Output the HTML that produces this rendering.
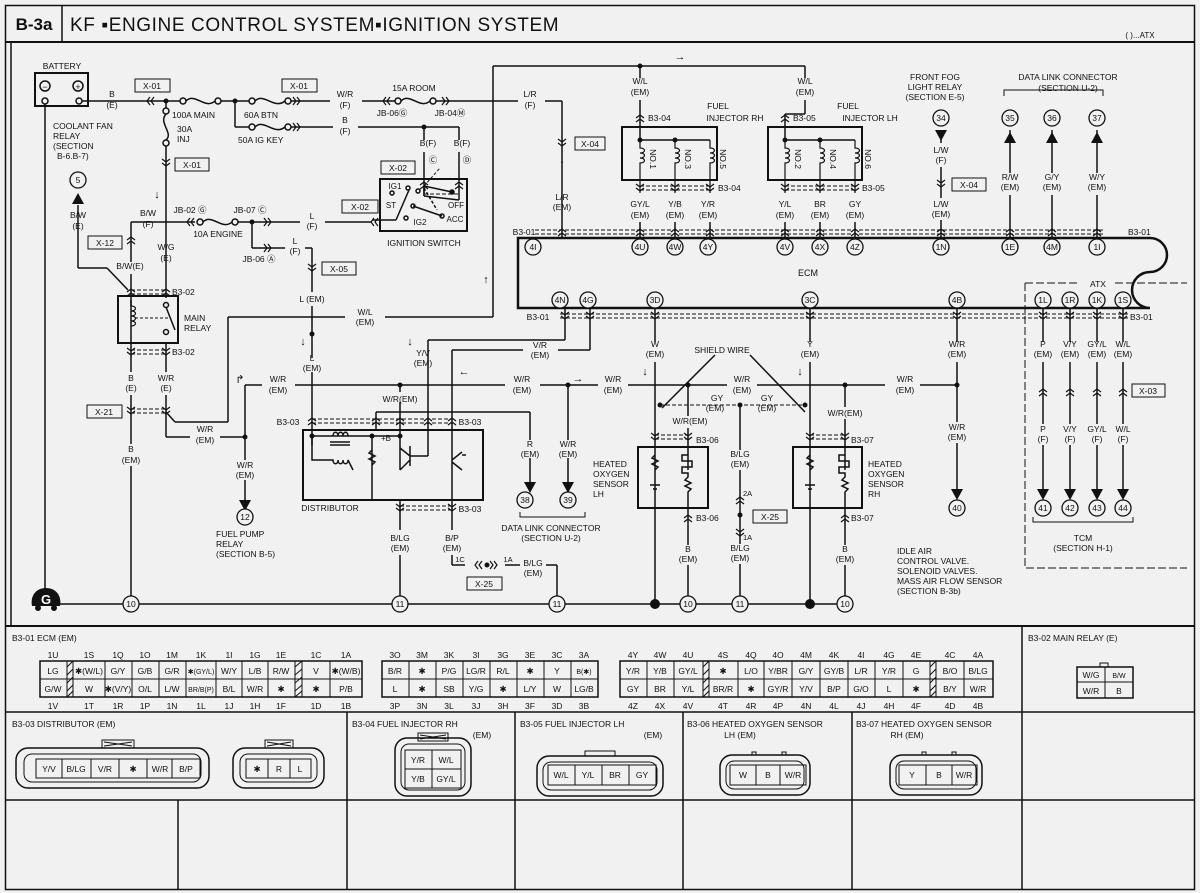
<!DOCTYPE html>
<html><head><meta charset="utf-8"><style>
html,body{margin:0;padding:0;background:#f1f1f1}
svg{display:block}
text{font-family:"Liberation Sans",sans-serif;font-size:8.5px;fill:#111;text-anchor:middle}
.l{text-anchor:start}
.t{font-size:9.5px}
</style></head><body>
<svg width="1200" height="893" viewBox="0 0 1200 893" xmlns="http://www.w3.org/2000/svg">
<defs>
<path id="vd" d="M-4,-4 L0,-1 L4,-4 M-4,0 L0,3 L4,0" fill="none" stroke="#111" stroke-width="1.2"/>
<path id="vu" d="M-4,4 L0,1 L4,4 M-4,0 L0,-3 L4,0" fill="none" stroke="#111" stroke-width="1.2"/>
<path id="hl" d="M4,-4 L1,0 L4,4 M0,-4 L-3,0 L0,4" fill="none" stroke="#111" stroke-width="1.2"/>
<path id="hr" d="M-4,-4 L-1,0 L-4,4 M0,-4 L3,0 L0,4" fill="none" stroke="#111" stroke-width="1.2"/>
<path id="ad" d="M-6,-8 L6,-8 L0,3 Z" fill="#111"/>
<path id="au" d="M-6,8 L6,8 L0,-3 Z" fill="#111"/>
</defs>
<rect x="0" y="0" width="1200" height="893" fill="#f1f1f1"/>
<rect x="5.5" y="5.5" width="1189" height="884" fill="none" stroke="#111" stroke-width="1.5"/>
<line x1="5" y1="42" x2="1195" y2="42" stroke="#111" stroke-width="2"/>
<line x1="62" y1="5" x2="62" y2="42" stroke="#111" stroke-width="1.5"/>
<text x="34" y="30" style="font-size:17px;font-weight:bold">B-3a</text>
<text x="70" y="31" class="l" style="font-size:19px;letter-spacing:0.6px">KF  ▪ENGINE CONTROL SYSTEM▪IGNITION SYSTEM</text>
<text x="1140" y="38" style="font-size:8px">(  )...ATX</text>
<line x1="11" y1="42" x2="11" y2="626" stroke="#111" stroke-width="1.5"/>

<g stroke="#111" stroke-width="1.5" fill="none">
<!-- battery -->
<rect x="35" y="73" width="53" height="33" stroke-width="2"/>
<circle cx="45" cy="86" r="5"/><circle cx="78" cy="86" r="5"/>
<circle cx="45" cy="101" r="3"/><circle cx="79" cy="101" r="3"/>
<line x1="45" y1="104" x2="45" y2="604"/>
<line x1="82" y1="101" x2="180" y2="101"/>
<!-- fuses main -->
<circle cx="183" cy="101" r="3"/><path d="M186,101 C195,92 205,110 215,101"/><circle cx="218" cy="101" r="3"/>
<line x1="221" y1="101" x2="249" y2="101"/>
<circle cx="252" cy="101" r="3"/><path d="M255,101 C264,92 274,110 285,101"/><circle cx="288" cy="101" r="3"/>
<line x1="291" y1="101" x2="330" y2="101"/><line x1="362" y1="101" x2="395" y2="101"/>
<circle cx="398" cy="101" r="3"/><path d="M401,101 C410,92 420,110 430,101"/><circle cx="433" cy="101" r="3"/>
<line x1="436" y1="101" x2="518" y2="101"/><line x1="545" y1="101" x2="562" y2="101"/>
<line x1="562" y1="101" x2="562" y2="238"/>
<!-- 50A IG KEY -->
<line x1="235" y1="101" x2="235" y2="127"/><line x1="235" y1="127" x2="249" y2="127"/>
<circle cx="252" cy="127" r="3"/><path d="M255,127 C264,118 274,136 285,127"/><circle cx="288" cy="127" r="3"/>
<line x1="291" y1="127" x2="333" y2="127"/><line x1="358" y1="127" x2="459" y2="127"/>
<line x1="459" y1="127" x2="459" y2="140"/><line x1="459" y1="152" x2="459" y2="200"/>
<line x1="424" y1="127" x2="424" y2="140"/><line x1="424" y1="152" x2="424" y2="196"/>
<line x1="424" y1="196" x2="459" y2="200"/>
<!-- ignition switch -->
<rect x="380" y="179" width="87" height="52" stroke-width="2"/>
<line x1="424" y1="186" x2="452" y2="192"/>
<circle cx="452" cy="192" r="2" fill="#111"/>
<line x1="409" y1="190" x2="396" y2="220"/><line x1="396" y1="220" x2="372" y2="220"/>
<circle cx="408" cy="188" r="2"/><circle cx="418" cy="191" r="2"/><circle cx="392" cy="193" r="2"/><circle cx="413" cy="206" r="2"/><circle cx="406" cy="218" r="2"/><circle cx="442" cy="216" r="2"/>
<line x1="413" y1="206" x2="442" y2="216"/>
<path d="M424,188 L437,210" stroke-dasharray="3,2"/>
<path d="M424,186 L424,196"/>
<path d="M424,186 L440,168 M459,186 L459,168" stroke-dasharray="3,2" stroke-width="1"/>
<!-- 30A INJ -->
<line x1="166" y1="101" x2="166" y2="108"/><circle cx="166" cy="111" r="3"/><path d="M166,114 C158,123 174,133 166,140"/><circle cx="166" cy="143" r="3"/>
<line x1="166" y1="146" x2="166" y2="298"/>
<!-- 10A ENGINE line -->
<line x1="131" y1="222" x2="195" y2="222"/>
<circle cx="200" cy="222" r="3"/><path d="M203,222 C212,213 222,231 232,222"/><circle cx="235" cy="222" r="3"/>
<line x1="238" y1="222" x2="300" y2="222"/><line x1="325" y1="222" x2="372" y2="222"/>
<line x1="252" y1="222" x2="252" y2="248"/><line x1="252" y1="248" x2="285" y2="248"/><line x1="305" y1="248" x2="312" y2="248"/>
<line x1="312" y1="248" x2="312" y2="292"/><line x1="312" y1="306" x2="312" y2="358"/><line x1="312" y1="372" x2="312" y2="445"/>
<line x1="131" y1="222" x2="131" y2="262"/><line x1="131" y1="274" x2="131" y2="330"/>
<line x1="78" y1="205" x2="78" y2="268"/><line x1="78" y1="268" x2="107" y2="268"/><line x1="107" y1="268" x2="128" y2="290"/>
<!-- main relay -->
<rect x="118" y="296" width="60" height="47" stroke-width="2"/>
<path d="M131,300 L131,306 M131,330 L131,343"/>
<path d="M131,306 c6,0 6,5 0,5 c6,0 6,5 0,5 c6,0 6,5 0,5 c6,0 6,5 0,5" stroke-width="1.2"/>
<line x1="166" y1="302" x2="166" y2="303"/><circle cx="166" cy="305" r="2.5"/><circle cx="166" cy="332" r="2.5"/>
<line x1="166" y1="307" x2="175" y2="330"/>
<line x1="135" y1="318" x2="168" y2="318" stroke-dasharray="3,2" stroke-width="1"/>
<line x1="131" y1="343" x2="131" y2="372"/><line x1="131" y1="395" x2="131" y2="444"/><line x1="131" y1="466" x2="131" y2="596"/>
<line x1="166" y1="343" x2="166" y2="372"/><line x1="166" y1="395" x2="166" y2="437"/>
<line x1="166" y1="437" x2="190" y2="437"/><line x1="220" y1="437" x2="245" y2="437"/>
<line x1="166" y1="412" x2="175" y2="422"/><line x1="175" y1="422" x2="228" y2="422"/><line x1="228" y1="422" x2="228" y2="317"/>
<line x1="228" y1="317" x2="345" y2="317"/><line x1="385" y1="317" x2="493" y2="317"/>
<line x1="493" y1="317" x2="493" y2="66"/><line x1="493" y1="66" x2="805" y2="66"/>
<line x1="245" y1="385" x2="245" y2="460"/><line x1="245" y1="480" x2="245" y2="500"/>
<line x1="245" y1="385" x2="262" y2="385"/><line x1="295" y1="385" x2="505" y2="385"/><line x1="540" y1="385" x2="598" y2="385"/><line x1="628" y1="385" x2="727" y2="385"/><line x1="757" y1="385" x2="885" y2="385"/><line x1="920" y1="385" x2="957" y2="385"/>
<!-- distributor -->
<rect x="303" y="430" width="180" height="70" stroke-width="2"/>
<line x1="400" y1="385" x2="400" y2="392"/><line x1="400" y1="402" x2="400" y2="436"/>
<line x1="312" y1="436" x2="345" y2="436"/><line x1="345" y1="436" x2="372" y2="436"/><line x1="372" y1="436" x2="400" y2="436"/>
<path d="M333,436 c0,-5 5,-5 5,0 c0,-5 5,-5 5,0 c0,-5 5,-5 5,0"/>
<line x1="330" y1="442" x2="350" y2="442"/><line x1="330" y1="445" x2="350" y2="445"/>
<path d="M312,436 L312,460 L333,460 c0,5 5,5 5,0 c0,5 5,5 5,0 c0,5 5,5 5,0 L353,470"/>
<line x1="372" y1="436" x2="372" y2="500"/>
<path d="M372,450 l-3,3 l6,3 l-6,3 l6,3 l-3,3"/>
<line x1="400" y1="436" x2="400" y2="470"/>
<path d="M400,448 l10,8 M410,446 l0,20 M410,460 l-10,10 M410,456 L428,456"/>
<line x1="428" y1="340" x2="428" y2="456"/>
<path d="M452,450 l0,20 M452,460 l10,-8 M452,462 l10,8 M462,455 l4,0"/>
<line x1="400" y1="500" x2="400" y2="530"/><line x1="400" y1="555" x2="400" y2="596"/>
<line x1="452" y1="350" x2="452" y2="450"/><line x1="452" y1="470" x2="452" y2="530"/><line x1="452" y1="555" x2="452" y2="565"/>
<line x1="452" y1="565" x2="465" y2="565"/><line x1="505" y1="565" x2="520" y2="565"/><line x1="546" y1="565" x2="557" y2="565"/><line x1="557" y1="565" x2="557" y2="596"/>
<line x1="428" y1="340" x2="565" y2="340"/><line x1="565" y1="340" x2="565" y2="308"/>
<line x1="452" y1="350" x2="523" y2="350"/><line x1="558" y1="350" x2="590" y2="350"/><line x1="590" y1="350" x2="590" y2="308"/>
<line x1="376" y1="412" x2="530" y2="412"/><line x1="376" y1="412" x2="376" y2="430"/>
<line x1="530" y1="412" x2="530" y2="440"/><line x1="530" y1="458" x2="530" y2="485"/>
<line x1="568" y1="385" x2="568" y2="440"/><line x1="568" y1="458" x2="568" y2="485"/>
<path d="M520,512 L520,517 L585,517 L585,512" stroke-width="1"/>
<!-- ground -->
<line x1="45" y1="604" x2="853" y2="604"/>
<!-- ECM -->
<path d="M518,238 L1150,238 A17,17 0 0 1 1150,272 A18,18 0 0 0 1150,308 L518,308 Z" stroke-width="2.5"/>
<!-- injectors -->
<line x1="640" y1="66" x2="640" y2="78"/><line x1="640" y1="100" x2="640" y2="140"/>
<line x1="805" y1="66" x2="805" y2="78"/><line x1="805" y1="100" x2="805" y2="114"/><line x1="785" y1="114" x2="805" y2="114"/><line x1="785" y1="114" x2="785" y2="140"/>
<rect x="622" y="127" width="95" height="53" stroke-width="2"/>
<rect x="768" y="127" width="94" height="53" stroke-width="2"/>
<line x1="640" y1="140" x2="710" y2="140"/><line x1="785" y1="140" x2="855" y2="140"/>
<g stroke-width="1.2">
<path d="M640,140 l0,8 c6,0 6,5 0,5 c6,0 6,5 0,5 c6,0 6,5 0,5 l0,30"/>
<path d="M675,140 l0,8 c6,0 6,5 0,5 c6,0 6,5 0,5 c6,0 6,5 0,5 l0,30"/>
<path d="M710,140 l0,8 c6,0 6,5 0,5 c6,0 6,5 0,5 c6,0 6,5 0,5 l0,30"/>
<path d="M785,140 l0,8 c6,0 6,5 0,5 c6,0 6,5 0,5 c6,0 6,5 0,5 l0,30"/>
<path d="M820,140 l0,8 c6,0 6,5 0,5 c6,0 6,5 0,5 c6,0 6,5 0,5 l0,30"/>
<path d="M855,140 l0,8 c6,0 6,5 0,5 c6,0 6,5 0,5 c6,0 6,5 0,5 l0,30"/>
</g>
<line x1="640" y1="222" x2="640" y2="238"/><line x1="675" y1="222" x2="675" y2="238"/><line x1="710" y1="222" x2="710" y2="238"/>
<line x1="785" y1="222" x2="785" y2="238"/><line x1="820" y1="222" x2="820" y2="238"/><line x1="855" y1="222" x2="855" y2="238"/>
<line x1="941" y1="130" x2="941" y2="143"/><line x1="941" y1="167" x2="941" y2="198"/><line x1="941" y1="220" x2="941" y2="238"/>
<line x1="1010" y1="130" x2="1010" y2="173"/><line x1="1010" y1="195" x2="1010" y2="238"/>
<line x1="1052" y1="130" x2="1052" y2="173"/><line x1="1052" y1="195" x2="1052" y2="238"/>
<line x1="1097" y1="130" x2="1097" y2="173"/><line x1="1097" y1="195" x2="1097" y2="238"/>
<path d="M1004,96 L1004,90 L1103,90 L1103,96" stroke-width="1"/>
<!-- dashed connector bands -->
<g stroke-dasharray="4,2" stroke-width="1">
<line x1="535" y1="230" x2="1105" y2="230"/><line x1="535" y1="234" x2="1105" y2="234"/>
<line x1="560" y1="314" x2="1130" y2="314"/><line x1="560" y1="318" x2="1130" y2="318"/>
<line x1="640" y1="186" x2="710" y2="186"/><line x1="640" y1="190" x2="710" y2="190"/>
<line x1="785" y1="186" x2="855" y2="186"/><line x1="785" y1="190" x2="855" y2="190"/>
<line x1="131" y1="290" x2="166" y2="290"/><line x1="131" y1="294" x2="166" y2="294"/>
<line x1="131" y1="350" x2="166" y2="350"/><line x1="131" y1="354" x2="166" y2="354"/>
<line x1="131" y1="409" x2="166" y2="409"/><line x1="131" y1="413" x2="166" y2="413"/>
<line x1="312" y1="419" x2="452" y2="419"/><line x1="312" y1="423" x2="452" y2="423"/>
<line x1="400" y1="506" x2="452" y2="506"/><line x1="400" y1="510" x2="452" y2="510"/>
<line x1="655" y1="435" x2="688" y2="435"/><line x1="655" y1="439" x2="688" y2="439"/>
<line x1="810" y1="435" x2="845" y2="435"/><line x1="810" y1="439" x2="845" y2="439"/>
<line x1="424" y1="194" x2="459" y2="194"/>
<line x1="660" y1="405" x2="805" y2="405"/>
</g>
<!-- ECM bottom wires -->
<line x1="655" y1="308" x2="655" y2="342"/><line x1="655" y1="362" x2="655" y2="604"/>
<line x1="810" y1="308" x2="810" y2="342"/><line x1="810" y1="362" x2="810" y2="604"/>
<line x1="957" y1="308" x2="957" y2="342"/><line x1="957" y1="362" x2="957" y2="422"/><line x1="957" y1="443" x2="957" y2="492"/>
<line x1="688" y1="385" x2="688" y2="416"/><line x1="688" y1="428" x2="688" y2="470"/>
<line x1="845" y1="385" x2="845" y2="407"/><line x1="845" y1="419" x2="845" y2="470"/>
<line x1="740" y1="405" x2="740" y2="450"/><line x1="740" y1="470" x2="740" y2="544"/><line x1="740" y1="564" x2="740" y2="596"/>
<line x1="688" y1="500" x2="688" y2="545"/><line x1="688" y1="565" x2="688" y2="596"/>
<line x1="845" y1="500" x2="845" y2="545"/><line x1="845" y1="565" x2="845" y2="596"/>
<line x1="715" y1="355" x2="662" y2="408"/><line x1="750" y1="355" x2="805" y2="412"/>
<!-- O2 sensors -->
<rect x="638" y="447" width="70" height="61" stroke-width="2"/>
<rect x="793" y="447" width="69" height="61" stroke-width="2"/>
<path d="M655,455 l-3,3 l6,3 l-6,3 l6,3 l-3,3 M650,485 l10,0 M653,489 l4,0"/>
<path d="M810,455 l-3,3 l6,3 l-6,3 l6,3 l-3,3 M805,485 l10,0 M808,489 l4,0"/>
<path d="M688,455 l-6,0 l0,6 l10,0 l0,6 l-10,0 l0,6 l6,0 l0,4 l-3,3 l6,3 l-6,3 l6,3 l-3,3 l0,8"/>
<path d="M845,455 l-6,0 l0,6 l10,0 l0,6 l-10,0 l0,6 l6,0 l0,4 l-3,3 l6,3 l-6,3 l6,3 l-3,3 l0,8"/>
<!-- ATX -->
<path d="M1025,283 L1080,283 M1115,283 L1187,283 M1025,283 L1025,568 L1187,568" stroke-dasharray="8,3" stroke-width="1"/>
<line x1="1043" y1="308" x2="1043" y2="342"/><line x1="1043" y1="362" x2="1043" y2="424"/><line x1="1043" y1="445" x2="1043" y2="492"/>
<line x1="1070" y1="308" x2="1070" y2="342"/><line x1="1070" y1="362" x2="1070" y2="424"/><line x1="1070" y1="445" x2="1070" y2="492"/>
<line x1="1097" y1="308" x2="1097" y2="342"/><line x1="1097" y1="362" x2="1097" y2="424"/><line x1="1097" y1="445" x2="1097" y2="492"/>
<line x1="1123" y1="308" x2="1123" y2="342"/><line x1="1123" y1="362" x2="1123" y2="424"/><line x1="1123" y1="445" x2="1123" y2="492"/>
<path d="M1033,517 L1033,522 L1133,522 L1133,517" stroke-width="1"/>
</g>

<!-- connector chevrons -->
<use href="#hl" x="150" y="101"/><use href="#hr" x="297" y="101"/><use href="#hr" x="297" y="127"/>
<use href="#hl" x="386" y="101"/><use href="#hr" x="446" y="101"/>
<use href="#vd" x="166" y="163"/><use href="#vd" x="562" y="143"/>
<use href="#hl" x="190" y="222"/><use href="#hr" x="268" y="222"/><use href="#hr" x="268" y="248"/><use href="#hl" x="374" y="222"/>
<use href="#vd" x="312" y="268"/><use href="#vu" x="131" y="240"/>
<use href="#vu" x="424" y="185"/><use href="#vu" x="459" y="185"/>
<use href="#vu" x="131" y="292"/><use href="#vu" x="166" y="292"/>
<use href="#vd" x="131" y="352"/><use href="#vd" x="166" y="352"/>
<use href="#vd" x="131" y="411"/><use href="#vd" x="166" y="411"/>
<use href="#vu" x="312" y="421"/><use href="#vu" x="376" y="421"/><use href="#vu" x="400" y="421"/><use href="#vu" x="428" y="421"/><use href="#vu" x="452" y="421"/>
<use href="#vd" x="400" y="508"/><use href="#vd" x="452" y="508"/>
<use href="#hl" x="478" y="565"/><use href="#hr" x="494" y="565"/>
<use href="#vu" x="640" y="118"/><use href="#vu" x="785" y="118"/>
<use href="#vd" x="640" y="188"/><use href="#vd" x="675" y="188"/><use href="#vd" x="710" y="188"/>
<use href="#vd" x="785" y="188"/><use href="#vd" x="820" y="188"/><use href="#vd" x="855" y="188"/>
<use href="#vd" x="941" y="184"/>
<use href="#vu" x="562" y="232"/><use href="#vu" x="640" y="232"/><use href="#vu" x="675" y="232"/><use href="#vu" x="710" y="232"/><use href="#vu" x="785" y="232"/><use href="#vu" x="820" y="232"/><use href="#vu" x="855" y="232"/><use href="#vu" x="941" y="232"/><use href="#vu" x="1010" y="232"/><use href="#vu" x="1052" y="232"/><use href="#vu" x="1097" y="232"/>
<use href="#vd" x="565" y="316"/><use href="#vd" x="590" y="316"/><use href="#vd" x="655" y="316"/><use href="#vd" x="810" y="316"/><use href="#vd" x="957" y="316"/><use href="#vd" x="1043" y="316"/><use href="#vd" x="1070" y="316"/><use href="#vd" x="1097" y="316"/><use href="#vd" x="1123" y="316"/>
<use href="#vu" x="1043" y="392"/><use href="#vu" x="1070" y="392"/><use href="#vu" x="1097" y="392"/><use href="#vu" x="1123" y="392"/>
<use href="#vd" x="655" y="437"/><use href="#vd" x="688" y="437"/><use href="#vd" x="810" y="437"/><use href="#vd" x="845" y="437"/>
<use href="#vu" x="688" y="518"/><use href="#vu" x="845" y="518"/>
<use href="#vu" x="740" y="500"/><use href="#vd" x="740" y="533"/>

<!-- junction dots -->
<g fill="#111">
<circle cx="166" cy="101" r="2.5"/><circle cx="235" cy="101" r="2.5"/><circle cx="424" cy="127" r="2.5"/>
<circle cx="252" cy="222" r="2.5"/><circle cx="312" cy="334" r="2.5"/><circle cx="245" cy="437" r="2.5"/>
<circle cx="400" cy="385" r="2.5"/><circle cx="568" cy="385" r="2.5"/><circle cx="400" cy="436" r="2.5"/><circle cx="372" cy="436" r="2.5"/><circle cx="312" cy="436" r="2.5"/>
<circle cx="640" cy="66" r="2.5"/><circle cx="640" cy="140" r="2.5"/><circle cx="675" cy="140" r="2.5"/><circle cx="785" cy="140" r="2.5"/><circle cx="820" cy="140" r="2.5"/>
<circle cx="688" cy="385" r="2.5"/><circle cx="845" cy="385" r="2.5"/><circle cx="957" cy="385" r="2.5"/>
<circle cx="660" cy="405" r="2.5"/><circle cx="740" cy="405" r="2.5"/><circle cx="805" cy="405" r="2.5"/><circle cx="740" cy="515" r="2.5"/><circle cx="487" cy="565" r="2.5"/>
<circle cx="655" cy="604" r="5"/><circle cx="810" cy="604" r="5"/>
</g>
<!-- arrows -->
<use href="#au" x="78" y="196"/><use href="#ad" x="245" y="508"/><use href="#ad" x="530" y="490"/><use href="#ad" x="568" y="490"/>
<use href="#ad" x="941" y="138"/><use href="#au" x="1010" y="135"/><use href="#au" x="1052" y="135"/><use href="#au" x="1097" y="135"/>
<use href="#ad" x="957" y="497"/><use href="#ad" x="1043" y="497"/><use href="#ad" x="1070" y="497"/><use href="#ad" x="1097" y="497"/><use href="#ad" x="1123" y="497"/>

<!-- circles -->
<g fill="#f1f1f1" stroke="#111" stroke-width="1.3">
<circle cx="78" cy="180" r="8"/><circle cx="245" cy="517" r="8"/><circle cx="525" cy="500" r="8"/><circle cx="568" cy="500" r="8"/>
<circle cx="131" cy="604" r="8"/><circle cx="400" cy="604" r="8"/><circle cx="557" cy="604" r="8"/><circle cx="688" cy="604" r="8"/><circle cx="740" cy="604" r="8"/><circle cx="845" cy="604" r="8"/>
<circle cx="941" cy="118" r="8"/><circle cx="1010" cy="118" r="8"/><circle cx="1052" cy="118" r="8"/><circle cx="1097" cy="118" r="8"/>
<circle cx="533" cy="247" r="8"/><circle cx="640" cy="247" r="8"/><circle cx="675" cy="247" r="8"/><circle cx="708" cy="247" r="8"/><circle cx="785" cy="247" r="8"/><circle cx="820" cy="247" r="8"/><circle cx="855" cy="247" r="8"/><circle cx="941" cy="247" r="8"/><circle cx="1010" cy="247" r="8"/><circle cx="1052" cy="247" r="8"/><circle cx="1097" cy="247" r="8"/>
<circle cx="560" cy="300" r="8"/><circle cx="588" cy="300" r="8"/><circle cx="655" cy="300" r="8"/><circle cx="810" cy="300" r="8"/><circle cx="957" cy="300" r="8"/><circle cx="1043" cy="300" r="8"/><circle cx="1070" cy="300" r="8"/><circle cx="1097" cy="300" r="8"/><circle cx="1123" cy="300" r="8"/>
<circle cx="957" cy="508" r="8"/><circle cx="1043" cy="508" r="8"/><circle cx="1070" cy="508" r="8"/><circle cx="1097" cy="508" r="8"/><circle cx="1123" cy="508" r="8"/>
</g>
<g style="font-size:8px">
<text x="78" y="183">5</text><text x="245" y="520">12</text><text x="525" y="503">38</text><text x="568" y="503">39</text>
<text x="131" y="607">10</text><text x="400" y="607">11</text><text x="557" y="607">11</text><text x="688" y="607">10</text><text x="740" y="607">11</text><text x="845" y="607">10</text>
<text x="941" y="121">34</text><text x="1010" y="121">35</text><text x="1052" y="121">36</text><text x="1097" y="121">37</text>
<text x="533" y="250">4I</text><text x="640" y="250">4U</text><text x="675" y="250">4W</text><text x="708" y="250">4Y</text><text x="785" y="250">4V</text><text x="820" y="250">4X</text><text x="855" y="250">4Z</text><text x="941" y="250">1N</text><text x="1010" y="250">1E</text><text x="1052" y="250">4M</text><text x="1097" y="250">1I</text>
<text x="560" y="303">4N</text><text x="588" y="303">4G</text><text x="655" y="303">3D</text><text x="810" y="303">3C</text><text x="957" y="303">4B</text><text x="1043" y="303">1L</text><text x="1070" y="303">1R</text><text x="1097" y="303">1K</text><text x="1123" y="303">1S</text>
<text x="957" y="511">40</text><text x="1043" y="511">41</text><text x="1070" y="511">42</text><text x="1097" y="511">43</text><text x="1123" y="511">44</text>
</g>
<!-- ground symbol -->
<path d="M32,606 C30,596 36,588 46,588 C56,588 62,596 60,606 Z" fill="#111"/>
<circle cx="38" cy="608" r="3" fill="#111"/><circle cx="54" cy="608" r="3" fill="#111"/>
<text x="46" y="604" style="fill:#fff;font-size:13px;font-weight:bold">G</text>

<!-- boxed labels -->
<g fill="none" stroke="#111" stroke-width="1">
<rect x="135" y="79" width="35" height="13"/><rect x="282" y="79" width="35" height="13"/><rect x="175" y="158" width="34" height="13"/>
<rect x="381" y="161" width="34" height="13"/><rect x="342" y="200" width="36" height="13"/><rect x="88" y="236" width="34" height="13"/>
<rect x="322" y="262" width="34" height="13"/><rect x="87" y="405" width="35" height="13"/><rect x="467" y="577" width="35" height="13"/>
<rect x="575" y="137" width="30" height="13"/><rect x="952" y="178" width="34" height="13"/><rect x="753" y="510" width="34" height="13"/><rect x="1132" y="384" width="33" height="13"/>
</g>
<g>
<text x="152" y="89">X-01</text><text x="299" y="89">X-01</text><text x="192" y="168">X-01</text><text x="398" y="171">X-02</text><text x="360" y="210">X-02</text><text x="105" y="246">X-12</text><text x="339" y="272">X-05</text><text x="104" y="415">X-21</text><text x="484" y="587">X-25</text><text x="590" y="147">X-04</text><text x="969" y="188">X-04</text><text x="770" y="520">X-25</text><text x="1148" y="394">X-03</text>
</g>

<!-- labels -->
<g>
<text x="62" y="69">BATTERY</text>
<text x="45" y="90" style="font-size:9px">−</text><text x="78" y="90" style="font-size:9px">+</text>
<text x="112" y="97">B</text><text x="112" y="108">(E)</text>
<text x="53" y="129" class="l">COOLANT FAN</text><text x="53" y="139" class="l">RELAY</text><text x="53" y="149" class="l">(SECTION</text><text x="57" y="159" class="l">B-6.B-7)</text>
<text x="172" y="118" class="l">100A MAIN</text><text x="244" y="118" class="l">60A BTN</text><text x="238" y="143" class="l">50A IG KEY</text>
<text x="177" y="132" class="l">30A</text><text x="177" y="142" class="l">INJ</text>
<text x="345" y="97">W/R</text><text x="345" y="108">(F)</text><text x="345" y="123">B</text><text x="345" y="134">(F)</text>
<text x="414" y="91">15A ROOM</text><text x="392" y="116">JB-06Ⓖ</text><text x="450" y="116">JB-04Ⓜ</text>
<text x="530" y="97">L/R</text><text x="530" y="108">(F)</text>
<text x="428" y="146">B(F)</text><text x="462" y="146">B(F)</text><text x="433" y="163">Ⓒ</text><text x="467" y="163">Ⓓ</text>
<text x="395" y="189" style="font-size:8px">IG1</text><text x="391" y="208" style="font-size:8px">ST</text><text x="456" y="208" style="font-size:8px">OFF</text><text x="455" y="222" style="font-size:8px">ACC</text><text x="420" y="225" style="font-size:8px">IG2</text>
<text x="424" y="246">IGNITION SWITCH</text>
<text x="78" y="218">B/W</text><text x="78" y="229">(E)</text>
<text x="148" y="216">B/W</text><text x="148" y="227">(F)</text>
<text x="190" y="213">JB-02 Ⓖ</text><text x="250" y="213">JB-07 Ⓒ</text><text x="218" y="237">10A ENGINE</text><text x="259" y="262">JB-06 Ⓐ</text>
<text x="312" y="219">L</text><text x="312" y="229">(F)</text><text x="295" y="244">L</text><text x="295" y="254">(F)</text>
<text x="166" y="250">W/G</text><text x="166" y="261">(E)</text><text x="130" y="269">B/W(E)</text>
<text x="157" y="198" style="font-size:11px">↓</text><text x="486" y="283" style="font-size:11px">↑</text><text x="680" y="60" style="font-size:11px">→</text>
<text x="172" y="295" class="l">B3-02</text><text x="172" y="355" class="l">B3-02</text>
<text x="184" y="321" class="l">MAIN</text><text x="184" y="331" class="l">RELAY</text>
<text x="312" y="302">L (EM)</text><text x="365" y="315">W/L</text><text x="365" y="325">(EM)</text>
<text x="303" y="345" style="font-size:11px">↓</text>
<text x="312" y="361">L</text><text x="312" y="371">(EM)</text>
<text x="131" y="381">B</text><text x="131" y="391">(E)</text><text x="166" y="381">W/R</text><text x="166" y="391">(E)</text>
<text x="131" y="452">B</text><text x="131" y="463">(EM)</text>
<text x="205" y="432">W/R</text><text x="205" y="443">(EM)</text>
<text x="278" y="382">W/R</text><text x="278" y="393">(EM)</text><text x="240" y="383" style="font-size:11px">↱</text>
<text x="245" y="468">W/R</text><text x="245" y="478">(EM)</text>
<text x="216" y="537" class="l">FUEL PUMP</text><text x="216" y="547" class="l">RELAY</text><text x="216" y="557" class="l">(SECTION B-5)</text>
<text x="423" y="356">Y/V</text><text x="423" y="366">(EM)</text><text x="410" y="345" style="font-size:11px">↓</text>
<text x="540" y="348">V/R</text><text x="540" y="358">(EM)</text><text x="464" y="375" style="font-size:11px">←</text>
<text x="400" y="402">W/R(EM)</text>
<text x="288" y="425">B3-03</text><text x="470" y="425">B3-03</text><text x="470" y="512">B3-03</text>
<text x="386" y="441" style="font-size:8px">+B</text>
<text x="330" y="511">DISTRIBUTOR</text>
<text x="522" y="382">W/R</text><text x="522" y="393">(EM)</text><text x="578" y="382" style="font-size:11px">→</text>
<text x="613" y="382">W/R</text><text x="613" y="393">(EM)</text>
<text x="530" y="447">R</text><text x="530" y="457">(EM)</text><text x="568" y="447">W/R</text><text x="568" y="457">(EM)</text>
<text x="551" y="531">DATA LINK CONNECTOR</text><text x="551" y="541">(SECTION U-2)</text>
<text x="400" y="541">B/LG</text><text x="400" y="551">(EM)</text><text x="452" y="541">B/P</text><text x="452" y="551">(EM)</text>
<text x="460" y="562" style="font-size:7.5px">1C</text><text x="508" y="562" style="font-size:7.5px">1A</text>
<text x="533" y="566">B/LG</text><text x="533" y="576">(EM)</text>
<text x="524" y="235">B3-01</text><text x="1128" y="235" class="l" style="text-anchor:start">B3-01</text>
<text x="538" y="320">B3-01</text><text x="1130" y="320" class="l">B3-01</text>
<text x="808" y="276" style="font-size:9px">ECM</text>
<text x="640" y="84">W/L</text><text x="640" y="95">(EM)</text><text x="805" y="84">W/L</text><text x="805" y="95">(EM)</text>
<text x="648" y="121" class="l">B3-04</text><text x="793" y="121" class="l">B3-05</text>
<text x="718" y="109">FUEL</text><text x="735" y="121">INJECTOR RH</text><text x="848" y="109">FUEL</text><text x="870" y="121">INJECTOR LH</text>
<text x="718" y="191" class="l">B3-04</text><text x="862" y="191" class="l">B3-05</text>
<text x="562" y="163" style="font-size:11px">↓</text>
<text x="562" y="200">L/R</text><text x="562" y="210">(EM)</text>
<g style="font-size:7px">
<text x="650" y="159" transform="rotate(90 650 159)">NO.1</text><text x="685" y="159" transform="rotate(90 685 159)">NO.3</text><text x="720" y="159" transform="rotate(90 720 159)">NO.5</text>
<text x="795" y="159" transform="rotate(90 795 159)">NO.2</text><text x="830" y="159" transform="rotate(90 830 159)">NO.4</text><text x="865" y="159" transform="rotate(90 865 159)">NO.6</text>
</g>
<text x="640" y="207">GY/L</text><text x="640" y="218">(EM)</text><text x="675" y="207">Y/B</text><text x="675" y="218">(EM)</text><text x="708" y="207">Y/R</text><text x="708" y="218">(EM)</text>
<text x="785" y="207">Y/L</text><text x="785" y="218">(EM)</text><text x="820" y="207">BR</text><text x="820" y="218">(EM)</text><text x="855" y="207">GY</text><text x="855" y="218">(EM)</text>
<text x="935" y="80">FRONT FOG</text><text x="935" y="90">LIGHT RELAY</text><text x="935" y="100">(SECTION E-5)</text>
<text x="1068" y="80">DATA LINK CONNECTOR</text><text x="1068" y="91">(SECTION U-2)</text>
<text x="941" y="153">L/W</text><text x="941" y="163">(F)</text><text x="941" y="207">L/W</text><text x="941" y="217">(EM)</text>
<text x="1010" y="180">R/W</text><text x="1010" y="190">(EM)</text><text x="1052" y="180">G/Y</text><text x="1052" y="190">(EM)</text><text x="1097" y="180">W/Y</text><text x="1097" y="190">(EM)</text>
<text x="1098" y="287">ATX</text>
<text x="655" y="347">W</text><text x="655" y="357">(EM)</text><text x="810" y="347">Y</text><text x="810" y="357">(EM)</text>
<text x="645" y="375" style="font-size:11px">↓</text><text x="800" y="375" style="font-size:11px">↓</text>
<text x="722" y="353">SHIELD WIRE</text>
<text x="742" y="382">W/R</text><text x="742" y="393">(EM)</text><text x="905" y="382">W/R</text><text x="905" y="393">(EM)</text>
<text x="717" y="401">GY</text><text x="715" y="411">(EM)</text><text x="767" y="401">GY</text><text x="767" y="411">(EM)</text>
<text x="690" y="424">W/R(EM)</text><text x="845" y="416">W/R(EM)</text>
<text x="696" y="443" class="l">B3-06</text><text x="851" y="443" class="l">B3-07</text>
<text x="696" y="521" class="l">B3-06</text><text x="851" y="521" class="l">B3-07</text>
<text x="593" y="467" class="l">HEATED</text><text x="593" y="477" class="l">OXYGEN</text><text x="593" y="487" class="l">SENSOR</text><text x="593" y="497" class="l">LH</text>
<text x="868" y="467" class="l">HEATED</text><text x="868" y="477" class="l">OXYGEN</text><text x="868" y="487" class="l">SENSOR</text><text x="868" y="497" class="l">RH</text>
<text x="740" y="457">B/LG</text><text x="740" y="467">(EM)</text><text x="743" y="496" class="l" style="font-size:7.5px">2A</text><text x="743" y="540" class="l" style="font-size:7.5px">1A</text>
<text x="740" y="551">B/LG</text><text x="740" y="561">(EM)</text>
<text x="688" y="552">B</text><text x="688" y="562">(EM)</text><text x="845" y="552">B</text><text x="845" y="562">(EM)</text>
<text x="957" y="347">W/R</text><text x="957" y="357">(EM)</text><text x="957" y="430">W/R</text><text x="957" y="440">(EM)</text>
<text x="897" y="554" class="l">IDLE AIR</text><text x="897" y="564" class="l">CONTROL VALVE.</text><text x="897" y="574" class="l">SOLENOID VALVES.</text><text x="897" y="584" class="l">MASS AIR FLOW SENSOR</text><text x="897" y="594" class="l">(SECTION B-3b)</text>
<text x="1043" y="347">P</text><text x="1043" y="357">(EM)</text><text x="1070" y="347">V/Y</text><text x="1070" y="357">(EM)</text><text x="1097" y="347">GY/L</text><text x="1097" y="357">(EM)</text><text x="1123" y="347">W/L</text><text x="1123" y="357">(EM)</text>
<text x="1043" y="432">P</text><text x="1043" y="442">(F)</text><text x="1070" y="432">V/Y</text><text x="1070" y="442">(F)</text><text x="1097" y="432">GY/L</text><text x="1097" y="442">(F)</text><text x="1123" y="432">W/L</text><text x="1123" y="442">(F)</text>
<text x="1083" y="541">TCM</text><text x="1083" y="551">(SECTION H-1)</text>
</g>

<!-- TABLE -->
<g stroke="#111" stroke-width="1.5" fill="none">
<line x1="5" y1="626" x2="1195" y2="626" stroke-width="2"/>
<line x1="5" y1="712" x2="1195" y2="712"/>
<line x1="5" y1="800" x2="1195" y2="800"/>
<line x1="1022" y1="626" x2="1022" y2="890"/>
<line x1="347" y1="712" x2="347" y2="890"/><line x1="515" y1="712" x2="515" y2="890"/><line x1="683" y1="712" x2="683" y2="890"/><line x1="852" y1="712" x2="852" y2="890"/>
<line x1="178" y1="800" x2="178" y2="890"/>
</g>
<g stroke="#111" stroke-width="1" fill="none">
<rect x="40" y="661" width="322" height="36" stroke-width="1.5"/><line x1="40" y1="679" x2="362" y2="679"/>
<path d="M67,661V697M73,661V697M105,661V697M132,661V697M159,661V697M186,661V697M216,661V697M242,661V697M268,661V697M295,661V697M302,661V697M330,661V697"/>
<path d="M67,667l6,-6M67,675l6,-6M67,683l6,-6M67,691l6,-6M67,697l6,-6M295,667l7,-6M295,675l7,-6M295,683l7,-6M295,691l7,-6M295,697l7,-6"/>
<rect x="382" y="661" width="216" height="36" stroke-width="1.5"/><line x1="382" y1="679" x2="598" y2="679"/>
<path d="M409,661V697M436,661V697M463,661V697M490,661V697M517,661V697M544,661V697M571,661V697"/>
<rect x="620" y="661" width="373" height="36" stroke-width="1.5"/><line x1="620" y1="679" x2="993" y2="679"/>
<path d="M647,661V697M674,661V697M703,661V697M709,661V697M738,661V697M764,661V697M792,661V697M820,661V697M848,661V697M875,661V697M903,661V697M930,661V697M936,661V697M964,661V697"/>
<path d="M703,667l6,-6M703,675l6,-6M703,683l6,-6M703,691l6,-6M703,697l6,-6M930,667l6,-6M930,675l6,-6M930,683l6,-6M930,691l6,-6M930,697l6,-6"/>
<!-- B3-02 -->
<rect x="1077" y="667" width="56" height="31" stroke-width="1.5"/><line x1="1077" y1="682" x2="1133" y2="682"/><line x1="1105" y1="667" x2="1105" y2="698"/><rect x="1100" y="663" width="8" height="4"/>
<!-- B3-03 -->
<rect x="16" y="748" width="193" height="40" rx="12" stroke-width="1.5"/><rect x="24" y="754" width="177" height="28" rx="8"/>
<rect x="102" y="740" width="32" height="8"/><path d="M104,742 L132,746 M104,746 L132,742"/>
<rect x="36" y="759" width="164" height="19"/><path d="M62,759V778M91,759V778M119,759V778M147,759V778M172,759V778"/>
<rect x="233" y="748" width="91" height="40" rx="12" stroke-width="1.5"/><rect x="240" y="754" width="77" height="28" rx="8"/>
<rect x="265" y="740" width="28" height="8"/><path d="M267,742 L291,746 M267,746 L291,742"/>
<rect x="246" y="759" width="65" height="19"/><path d="M268,759V778M290,759V778"/>
<!-- B3-04 -->
<rect x="395" y="738" width="76" height="58" rx="12" stroke-width="1.5"/><rect x="401" y="744" width="64" height="46" rx="8"/>
<rect x="418" y="733" width="30" height="8"/><path d="M420,735 L446,739 M420,739 L446,735"/>
<rect x="405" y="750" width="56" height="38"/><line x1="405" y1="769" x2="461" y2="769"/><line x1="432" y1="750" x2="432" y2="788"/>
<!-- B3-05 -->
<rect x="537" y="756" width="126" height="40" rx="12" stroke-width="1.5"/><rect x="543" y="762" width="114" height="28" rx="8"/>
<rect x="585" y="751" width="30" height="5"/>
<rect x="548" y="765" width="108" height="20"/><path d="M575,765V785M602,765V785M629,765V785"/>
<!-- B3-06 -->
<rect x="720" y="755" width="90" height="40" rx="12" stroke-width="1.5"/><rect x="726" y="761" width="78" height="28" rx="8"/>
<rect x="752" y="752" width="4" height="3"/><rect x="782" y="752" width="4" height="3"/>
<rect x="730" y="765" width="76" height="20"/><path d="M756,765V785M780,765V785"/>
<!-- B3-07 -->
<rect x="890" y="755" width="92" height="40" rx="12" stroke-width="1.5"/><rect x="896" y="761" width="80" height="28" rx="8"/>
<rect x="922" y="752" width="4" height="3"/><rect x="952" y="752" width="4" height="3"/>
<rect x="899" y="765" width="78" height="20"/><path d="M926,765V785M952,765V785"/>
</g>
<g style="font-size:8.5px">
<text x="12" y="641" class="l">B3-01  ECM (EM)</text>
<text x="1028" y="641" class="l">B3-02  MAIN RELAY (E)</text>
<text x="12" y="727" class="l">B3-03   DISTRIBUTOR  (EM)</text>
<text x="352" y="727" class="l">B3-04   FUEL INJECTOR RH</text><text x="482" y="738">(EM)</text>
<text x="520" y="727" class="l">B3-05   FUEL INJECTOR LH</text><text x="653" y="738">(EM)</text>
<text x="687" y="727" class="l">B3-06 HEATED OXYGEN SENSOR</text><text x="740" y="738">LH  (EM)</text>
<text x="856" y="727" class="l">B3-07 HEATED OXYGEN SENSOR</text><text x="907" y="738">RH  (EM)</text>
<text x="53" y="658">1U</text><text x="89" y="658">1S</text><text x="118" y="658">1Q</text><text x="145" y="658">1O</text><text x="172" y="658">1M</text><text x="201" y="658">1K</text><text x="229" y="658">1I</text><text x="255" y="658">1G</text><text x="281" y="658">1E</text><text x="316" y="658">1C</text><text x="346" y="658">1A</text>
<text x="53" y="709">1V</text><text x="89" y="709">1T</text><text x="118" y="709">1R</text><text x="145" y="709">1P</text><text x="172" y="709">1N</text><text x="201" y="709">1L</text><text x="229" y="709">1J</text><text x="255" y="709">1H</text><text x="281" y="709">1F</text><text x="316" y="709">1D</text><text x="346" y="709">1B</text>
<text x="53" y="674">LG</text><text x="89" y="674">✱(W/L)</text><text x="118" y="674">G/Y</text><text x="145" y="674">G/B</text><text x="172" y="674">G/R</text><text x="201" y="674" style="font-size:7px">✱(GY/L)</text><text x="229" y="674">W/Y</text><text x="255" y="674">L/B</text><text x="281" y="674">R/W</text><text x="316" y="674">V</text><text x="346" y="674">✱(W/B)</text>
<text x="53" y="692">G/W</text><text x="89" y="692">W</text><text x="118" y="692">✱(V/Y)</text><text x="145" y="692">O/L</text><text x="172" y="692">L/W</text><text x="201" y="692" style="font-size:7px">BR/B(P)</text><text x="229" y="692">B/L</text><text x="255" y="692">W/R</text><text x="281" y="692">✱</text><text x="316" y="692">✱</text><text x="346" y="692">P/B</text>
<text x="395" y="658">3O</text><text x="422" y="658">3M</text><text x="449" y="658">3K</text><text x="476" y="658">3I</text><text x="503" y="658">3G</text><text x="530" y="658">3E</text><text x="557" y="658">3C</text><text x="584" y="658">3A</text>
<text x="395" y="709">3P</text><text x="422" y="709">3N</text><text x="449" y="709">3L</text><text x="476" y="709">3J</text><text x="503" y="709">3H</text><text x="530" y="709">3F</text><text x="557" y="709">3D</text><text x="584" y="709">3B</text>
<text x="395" y="674">B/R</text><text x="422" y="674">✱</text><text x="449" y="674">P/G</text><text x="476" y="674">LG/R</text><text x="503" y="674">R/L</text><text x="530" y="674">✱</text><text x="557" y="674">Y</text><text x="584" y="674" style="font-size:7px">B(✱)</text>
<text x="395" y="692">L</text><text x="422" y="692">✱</text><text x="449" y="692">SB</text><text x="476" y="692">Y/G</text><text x="503" y="692">✱</text><text x="530" y="692">L/Y</text><text x="557" y="692">W</text><text x="584" y="692">LG/B</text>
<text x="633" y="658">4Y</text><text x="660" y="658">4W</text><text x="688" y="658">4U</text><text x="723" y="658">4S</text><text x="751" y="658">4Q</text><text x="778" y="658">4O</text><text x="806" y="658">4M</text><text x="834" y="658">4K</text><text x="861" y="658">4I</text><text x="889" y="658">4G</text><text x="916" y="658">4E</text><text x="950" y="658">4C</text><text x="978" y="658">4A</text>
<text x="633" y="709">4Z</text><text x="660" y="709">4X</text><text x="688" y="709">4V</text><text x="723" y="709">4T</text><text x="751" y="709">4R</text><text x="778" y="709">4P</text><text x="806" y="709">4N</text><text x="834" y="709">4L</text><text x="861" y="709">4J</text><text x="889" y="709">4H</text><text x="916" y="709">4F</text><text x="950" y="709">4D</text><text x="978" y="709">4B</text>
<text x="633" y="674">Y/R</text><text x="660" y="674">Y/B</text><text x="688" y="674">GY/L</text><text x="723" y="674">✱</text><text x="751" y="674">L/O</text><text x="778" y="674">Y/BR</text><text x="806" y="674">G/Y</text><text x="834" y="674">GY/B</text><text x="861" y="674">L/R</text><text x="889" y="674">Y/R</text><text x="916" y="674">G</text><text x="950" y="674">B/O</text><text x="978" y="674">B/LG</text>
<text x="633" y="692">GY</text><text x="660" y="692">BR</text><text x="688" y="692">Y/L</text><text x="723" y="692">BR/R</text><text x="751" y="692">✱</text><text x="778" y="692">GY/R</text><text x="806" y="692">Y/V</text><text x="834" y="692">B/P</text><text x="861" y="692">G/O</text><text x="889" y="692">L</text><text x="916" y="692">✱</text><text x="950" y="692">B/Y</text><text x="978" y="692">W/R</text>
<text x="1091" y="678">W/G</text><text x="1119" y="678" style="font-size:7px">B/W</text><text x="1091" y="694">W/R</text><text x="1119" y="694">B</text>
<text x="49" y="772">Y/V</text><text x="76" y="772">B/LG</text><text x="105" y="772">V/R</text><text x="133" y="772">✱</text><text x="160" y="772">W/R</text><text x="186" y="772">B/P</text>
<text x="257" y="772">✱</text><text x="279" y="772">R</text><text x="300" y="772">L</text>
<text x="418" y="763">Y/R</text><text x="446" y="763">W/L</text><text x="418" y="782">Y/B</text><text x="446" y="782">GY/L</text>
<text x="561" y="778">W/L</text><text x="588" y="778">Y/L</text><text x="615" y="778">BR</text><text x="642" y="778">GY</text>
<text x="743" y="778">W</text><text x="768" y="778">B</text><text x="793" y="778">W/R</text>
<text x="912" y="778">Y</text><text x="939" y="778">B</text><text x="964" y="778">W/R</text>
</g>
</svg>
</body></html>
